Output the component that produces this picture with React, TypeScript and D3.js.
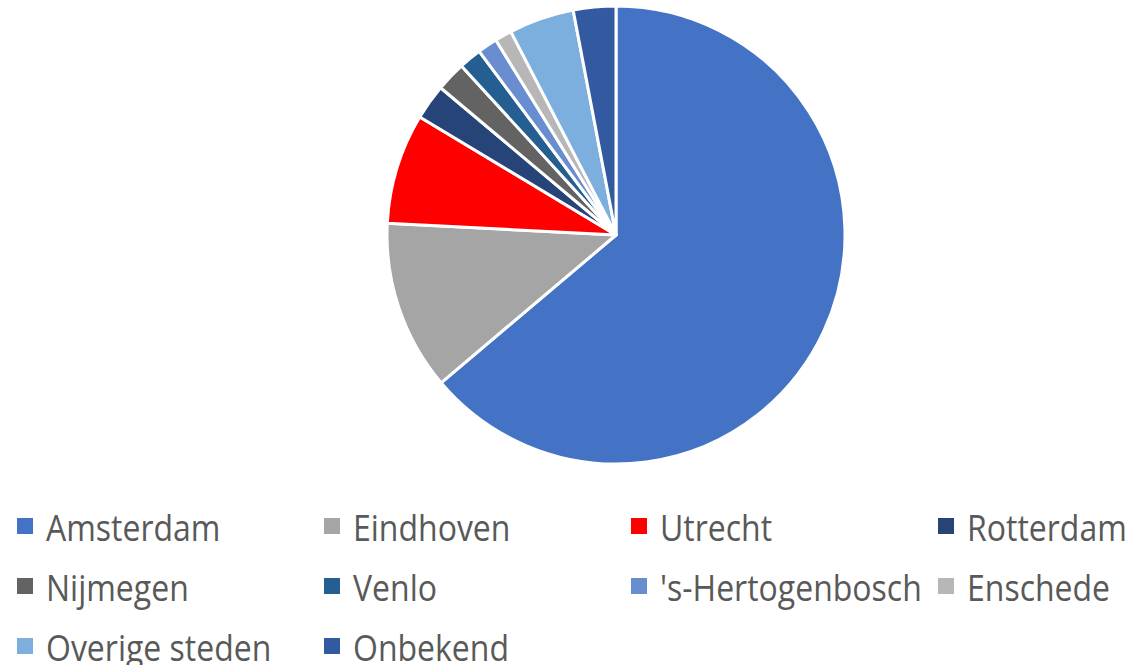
import React, { useEffect, useRef } from "react";
import * as d3 from "d3";

const cities = [
  "Amsterdam",
  "Eindhoven",
  "Utrecht",
  "Rotterdam",
  "Nijmegen",
  "Venlo",
  "'s-Hertogenbosch",
  "Enschede",
  "Overige steden",
  "Onbekend",
];
const shares = [63.9, 12.0, 7.8, 2.5, 2.1, 1.6, 1.4, 1.2, 4.6, 3.0];
const colors = [
  "#4472C4",
  "#A5A5A5",
  "#FF0000",
  "#264478",
  "#636363",
  "#255E91",
  "#698ED0",
  "#B7B7B7",
  "#7CAFDD",
  "#335AA1",
];

const App = () => {
  const svgRef = useRef<SVGSVGElement>(null);

  useEffect(() => {
    const width = 1132, height = 665;
    const cx = 616, cy = 235, radius = 229;

    const svg = d3.select(svgRef.current)
      .attr("width", width)
      .attr("height", height);
    svg.selectAll("*").remove();

    // taart, met de klok mee vanaf 12 uur
    const pie = d3.pie<number>().sort(null).value(d => d);
    const arc = d3.arc<d3.PieArcDatum<number>>().innerRadius(0).outerRadius(radius);

    svg.append("g")
      .attr("transform", `translate(${cx},${cy})`)
      .selectAll("path")
      .data(pie(shares))
      .enter().append("path")
      .attr("d", arc)
      .attr("fill", (d, i) => colors[i])
      .attr("stroke", "#fff")
      .attr("stroke-width", 3)
      .attr("stroke-linejoin", "round");

    // legenda: 4 kolommen
    const colX = d3.scaleLinear().domain([0, 1]).range([17, 324]);
    const rowY = d3.scaleLinear().domain([0, 1]).range([541, 601]);

    const item = svg.append("g")
      .selectAll("g")
      .data(cities)
      .enter().append("g")
      .attr("transform", (d, i) => `translate(${colX(i % 4)},${rowY(Math.floor(i / 4))})`);

    item.append("rect")
      .attr("x", 0)
      .attr("y", -23)
      .attr("width", 16)
      .attr("height", 16)
      .attr("fill", (d, i) => colors[i]);

    // iets hoger getrokken zodat het op Calibri lijkt
    item.append("text")
      .attr("transform", "translate(29,0) scale(1,1.15)")
      .attr("font-family", "'Open Sans', sans-serif")
      .attr("font-size", 32)
      .attr("fill", "#595959")
      .text(d => d);
  }, []);

  return (
    <svg
      ref={svgRef}
      style={{ position: "absolute", left: 0, top: 0, display: "block" }}
    ></svg>
  );
};

export default App;
